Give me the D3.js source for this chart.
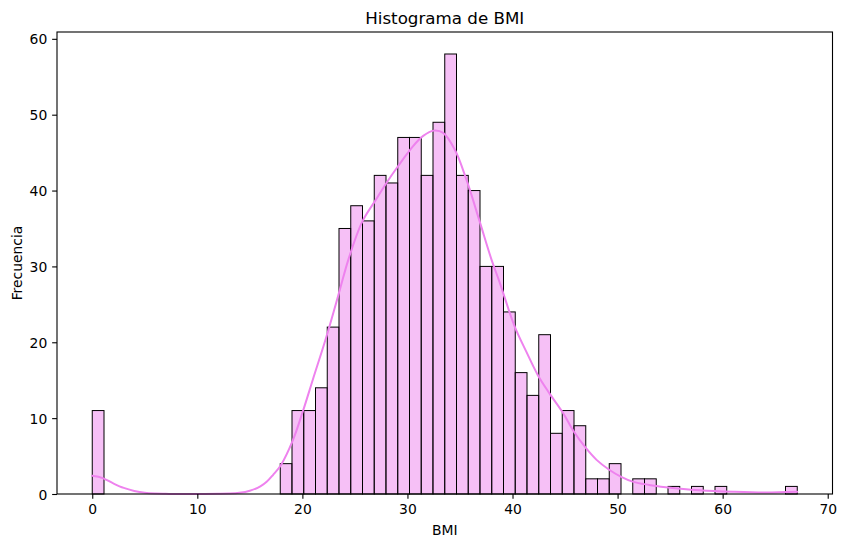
<!DOCTYPE html>
<html>
<head>
<meta charset="utf-8">
<script src="https://cdn.jsdelivr.net/npm/d3@7"></script>
<style>
  html, body { margin: 0; padding: 0; background: #ffffff; }
  svg { display: block; }
  text { font-family: "DejaVu Sans", sans-serif; fill: #000; }
</style>
</head>
<body>
<svg id="chart" width="845" height="547"></svg>
<script>
// ---- data ----
const bmiMin = 0;
const bmiMax = 67.1;
const binCounts = [
  11, 0, 0, 0, 0, 0, 0, 0, 0, 0,
  0, 0, 0, 0, 0, 0, 4, 11, 11, 14,
  22, 35, 38, 36, 42, 41, 47, 47, 42, 49,
  58, 42, 40, 30, 30, 24, 16, 13, 21, 8,
  11, 9, 2, 2, 4, 0, 2, 2, 0, 1,
  0, 1, 0, 1, 0, 0, 0, 0, 0, 1
];
const kdeX = [0, 1, 2, 3, 4, 5, 6, 7, 8, 10, 12, 13, 14, 15, 16, 16.6, 17.2, 17.95, 19.1, 20.07, 21, 22.3, 23.56, 24.4, 25.7, 27, 28.0, 29.1, 30.5, 31.5, 32.5, 33.4, 34.5, 35.6, 36.9, 38.0, 38.8, 40.2, 41.3, 42.4, 43.5, 44.8, 45.8, 46.9, 48, 49.2, 50.3, 51.5, 53, 54.6, 56, 57.8, 61, 64.1, 67.1];
const kdeY = [2.4, 2.1, 1.4, 0.8, 0.4, 0.15, 0.05, 0.02, 0.0, 0.0, 0.02, 0.05, 0.15, 0.43, 1.0, 1.6, 2.5, 3.8, 7.1, 11.0, 15.1, 20.8, 26.9, 31.0, 35.9, 38.8, 41.0, 43.2, 45.8, 47.2, 47.9, 47.6, 45.4, 41.5, 35.8, 30.9, 27.8, 22.1, 18.8, 15.7, 13.3, 10.7, 8.3, 6.2, 4.5, 3.2, 2.3, 1.6, 1.2, 0.9, 0.7, 0.5, 0.3, 0.2, 0.3];
const xTicks = [0, 10, 20, 30, 40, 50, 60, 70];
const yTicks = [0, 10, 20, 30, 40, 50, 60];
const titleText = "Histograma de BMI";
const xLabel = "BMI";
const yLabel = "Frecuencia";

// ---- layout ----
const L = 57, R = 832.5, T = 32, B = 494;
const svg = d3.select("#chart");

const nBins = binCounts.length;
const binW = (bmiMax - bmiMin) / nBins;
const bins = binCounts.map((c, i) => ({ x0: bmiMin + i * binW, x1: bmiMin + (i + 1) * binW, count: c }));

const span = bmiMax - bmiMin;
const x = d3.scaleLinear().domain([bmiMin - 0.05 * span, bmiMax + 0.05 * span]).range([L, R]);
const yMax = d3.max(binCounts) * 1.05;
const y = d3.scaleLinear().domain([0, yMax]).range([B, T]);

// bars
svg.append("g").selectAll("rect")
  .data(bins.filter(d => d.count > 0))
  .join("rect")
  .attr("x", d => x(d.x0))
  .attr("y", d => y(d.count))
  .attr("width", d => x(d.x1) - x(d.x0))
  .attr("height", d => y(0) - y(d.count))
  .attr("fill", "#EE82EE")
  .attr("fill-opacity", 0.5)
  .attr("stroke", "#000")
  .attr("stroke-width", 1);

// kde line
const kdePts = kdeX.map((v, i) => [v, kdeY[i]]);
svg.append("path")
  .datum(kdePts)
  .attr("fill", "none")
  .attr("stroke", "#EE82EE")
  .attr("stroke-width", 2)
  .attr("stroke-linecap", "round")
  .attr("d", d3.line().x(d => x(d[0])).y(d => y(d[1])).curve(d3.curveCatmullRom.alpha(0.5)));

// axes
const tickLen = 4.86;
const fs = 13.9;
const xAxis = d3.axisBottom(x).tickValues(xTicks).tickSize(tickLen).tickPadding(4.86).tickFormat(d3.format("d"));
const gx = svg.append("g").attr("transform", `translate(0,${B})`).call(xAxis);
gx.select(".domain").remove();
gx.selectAll("line").attr("stroke", "#000").attr("stroke-width", 1.1);
gx.selectAll("text").attr("font-size", fs).attr("font-family", "DejaVu Sans").attr("fill", "#000").attr("dy", "0.74em");

const yAxis = d3.axisLeft(y).tickValues(yTicks).tickSize(tickLen).tickPadding(4.86).tickFormat(d3.format("d"));
const gy = svg.append("g").attr("transform", `translate(${L},0)`).call(yAxis);
gy.select(".domain").remove();
gy.selectAll("line").attr("stroke", "#000").attr("stroke-width", 1.1);
gy.selectAll("text").attr("font-size", fs).attr("font-family", "DejaVu Sans").attr("fill", "#000").attr("dy", "0.36em");

// spines
svg.append("rect")
  .attr("x", L).attr("y", T).attr("width", R - L).attr("height", B - T)
  .attr("fill", "none").attr("stroke", "#000").attr("stroke-width", 1.1);

// labels
svg.append("text").attr("x", (L + R) / 2).attr("y", 23.5)
  .attr("text-anchor", "middle").attr("font-size", 16.7).text(titleText);
svg.append("text").attr("x", (L + R) / 2).attr("y", 535)
  .attr("text-anchor", "middle").attr("font-size", fs).text(xLabel);
svg.append("text").attr("transform", `translate(22,${(T + B) / 2}) rotate(-90)`)
  .attr("text-anchor", "middle").attr("font-size", fs).text(yLabel);
</script>
</body>
</html>
